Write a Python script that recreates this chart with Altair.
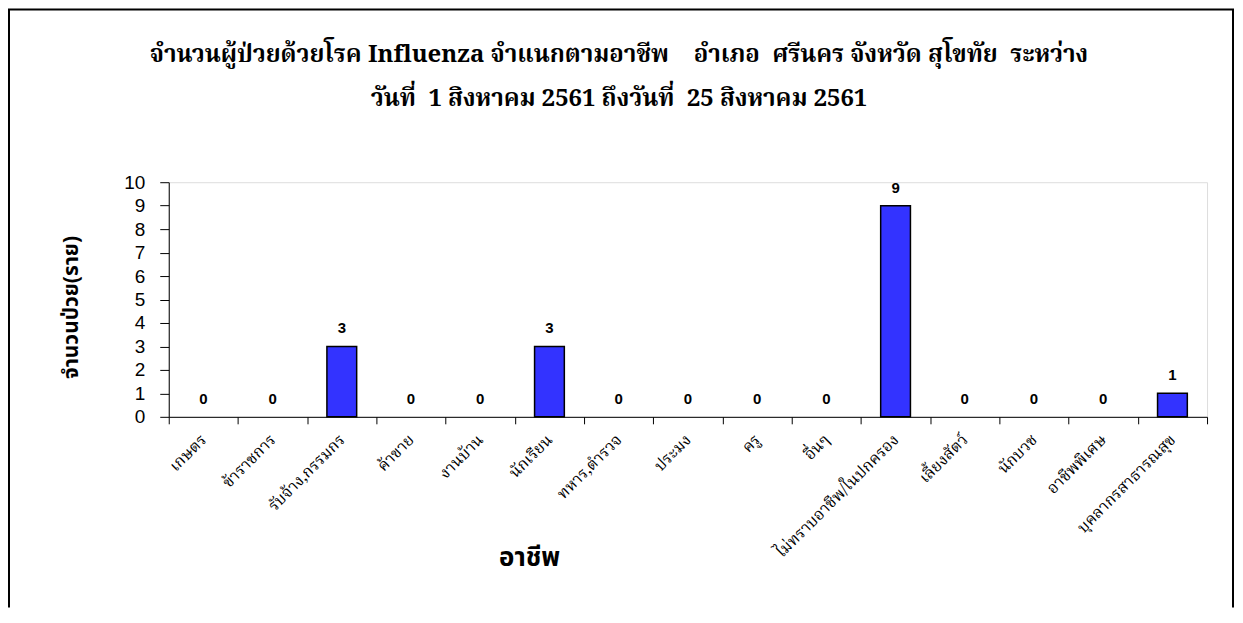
import altair as alt
import pandas as pd

NB = "\u00a0"
occupations = ["เกษตร", "ข้าราชการ", "รับจ้าง,กรรมกร", "ค้าขาย", "งานบ้าน", "นักเรียน",
               "ทหาร,ตำรวจ", "ประมง", "ครู", "อื่นๆ", "ไม่ทราบอาชีพ/ในปกครอง",
               "เลี้ยงสัตว์", "นักบวช", "อาชีพพิเศษ", "บุคลากรสาธารณสุข"]
counts = [0, 0, 3, 0, 0, 3, 0, 0, 0, 0, 9, 0, 0, 0, 1]
y_ticks = list(range(0, 11))

title_lines = ["จำนวนผู้ป่วยด้วยโรค Influenza จำแนกตามอาชีพ    อำเภอ  ศรีนคร จังหวัด สุโขทัย  ระหว่าง",
               "วันที่  1 สิงหาคม 2561 ถึงวันที่  25 สิงหาคม 2561"]
title_lines = [t.replace(" ", NB) for t in title_lines]
x_title = "อาชีพ"
y_title = "จำนวนป่วย(ราย)"

df = pd.DataFrame({"occ": occupations, "n": counts})

W, H = 1040, 235
PAD = {"left": 161, "top": 174, "right": 28, "bottom": 191}

x_enc = alt.X("occ:N", sort=None,
              scale=alt.Scale(domain=occupations, paddingInner=0, paddingOuter=0),
              axis=alt.Axis(title=x_title, labelAngle=-45, labelAlign="right",
                            labelBaseline="middle", labelPadding=13,
                            labelFont="Noto Serif Thai, Liberation Serif, serif",
                            labelFontSize=16, labelColor="#000",
                            tickBand="extent", tickSize=7, tickColor="#000",
                            domainColor="#000", labelOverlap=False,
                            titleFont="Noto Sans Thai, Liberation Sans, sans-serif",
                            titleFontSize=26, titleFontWeight="bold", titleColor="#000",
                            titleX=361, titleY=141, titleAlign="center",
                            titleBaseline="middle"))
y_enc = alt.Y("n:Q", scale=alt.Scale(domain=[0, 10], nice=False),
              axis=alt.Axis(title=y_title, values=y_ticks, grid=False,
                            tickSize=9, tickColor="#000", domainColor="#000",
                            labelPadding=15, labelFont="Liberation Sans, Arial, sans-serif",
                            labelFontSize=19, labelColor="#000",
                            titleFont="Noto Sans Thai, Liberation Sans, sans-serif",
                            titleFontSize=21, titleFontWeight="bold", titleColor="#000",
                            titleX=-97, titleY=125, titleAngle=270,
                            titleAlign="center", titleBaseline="middle"))

bars = alt.Chart(df).transform_filter("datum.n > 0").mark_bar(
    width=alt.RelativeBandSize(0.43), color="#3333FF",
    stroke="#000", strokeWidth=1.5).encode(x=x_enc, y=y_enc)

labels = alt.Chart(df).mark_text(font="Liberation Sans, Arial, sans-serif", fontSize=15,
                                 fontWeight="bold", color="#000", baseline="alphabetic",
                                 dy=-13).encode(x=x_enc, y=y_enc, text="n:Q")

title_df = pd.DataFrame({"t": title_lines})
title1 = alt.Chart(title_df).transform_filter(alt.datum.t == title_lines[0]).mark_text(
    font="Noto Serif Thai, Liberation Serif, serif", fontSize=24, fontWeight="bold",
    color="#000", baseline="middle", align="center").encode(
    x=alt.value(451), y=alt.value(-127), text="t:N")
title2 = alt.Chart(title_df).transform_filter(alt.datum.t == title_lines[1]).mark_text(
    font="Noto Serif Thai, Liberation Serif, serif", fontSize=24, fontWeight="bold",
    color="#000", baseline="middle", align="center").encode(
    x=alt.value(451), y=alt.value(-83), text="t:N")

border_df = pd.DataFrame({"k": [0]})
border_left = alt.Chart(border_df).mark_rule(color="#000", strokeWidth=2).encode(
    x=alt.value(-160), y=alt.value(-173), y2=alt.value(H + PAD["bottom"]))
border_right = alt.Chart(border_df).mark_rule(color="#000", strokeWidth=2).encode(
    x=alt.value(1066), y=alt.value(-173), y2=alt.value(H + PAD["bottom"]))
border_top = alt.Chart(border_df).mark_rule(color="#000", strokeWidth=2).encode(
    x=alt.value(-161), x2=alt.value(1067), y=alt.value(-173))

chart = alt.layer(bars, labels, title1, title2, border_left, border_right, border_top).properties(
    width=W, height=H,
    padding=PAD,
    autosize=alt.AutoSizeParams(type="none"),
).configure_view(stroke=None).configure(background="white")

chart.save("out.html", embed_options={"renderer": "svg", "actions": False})
